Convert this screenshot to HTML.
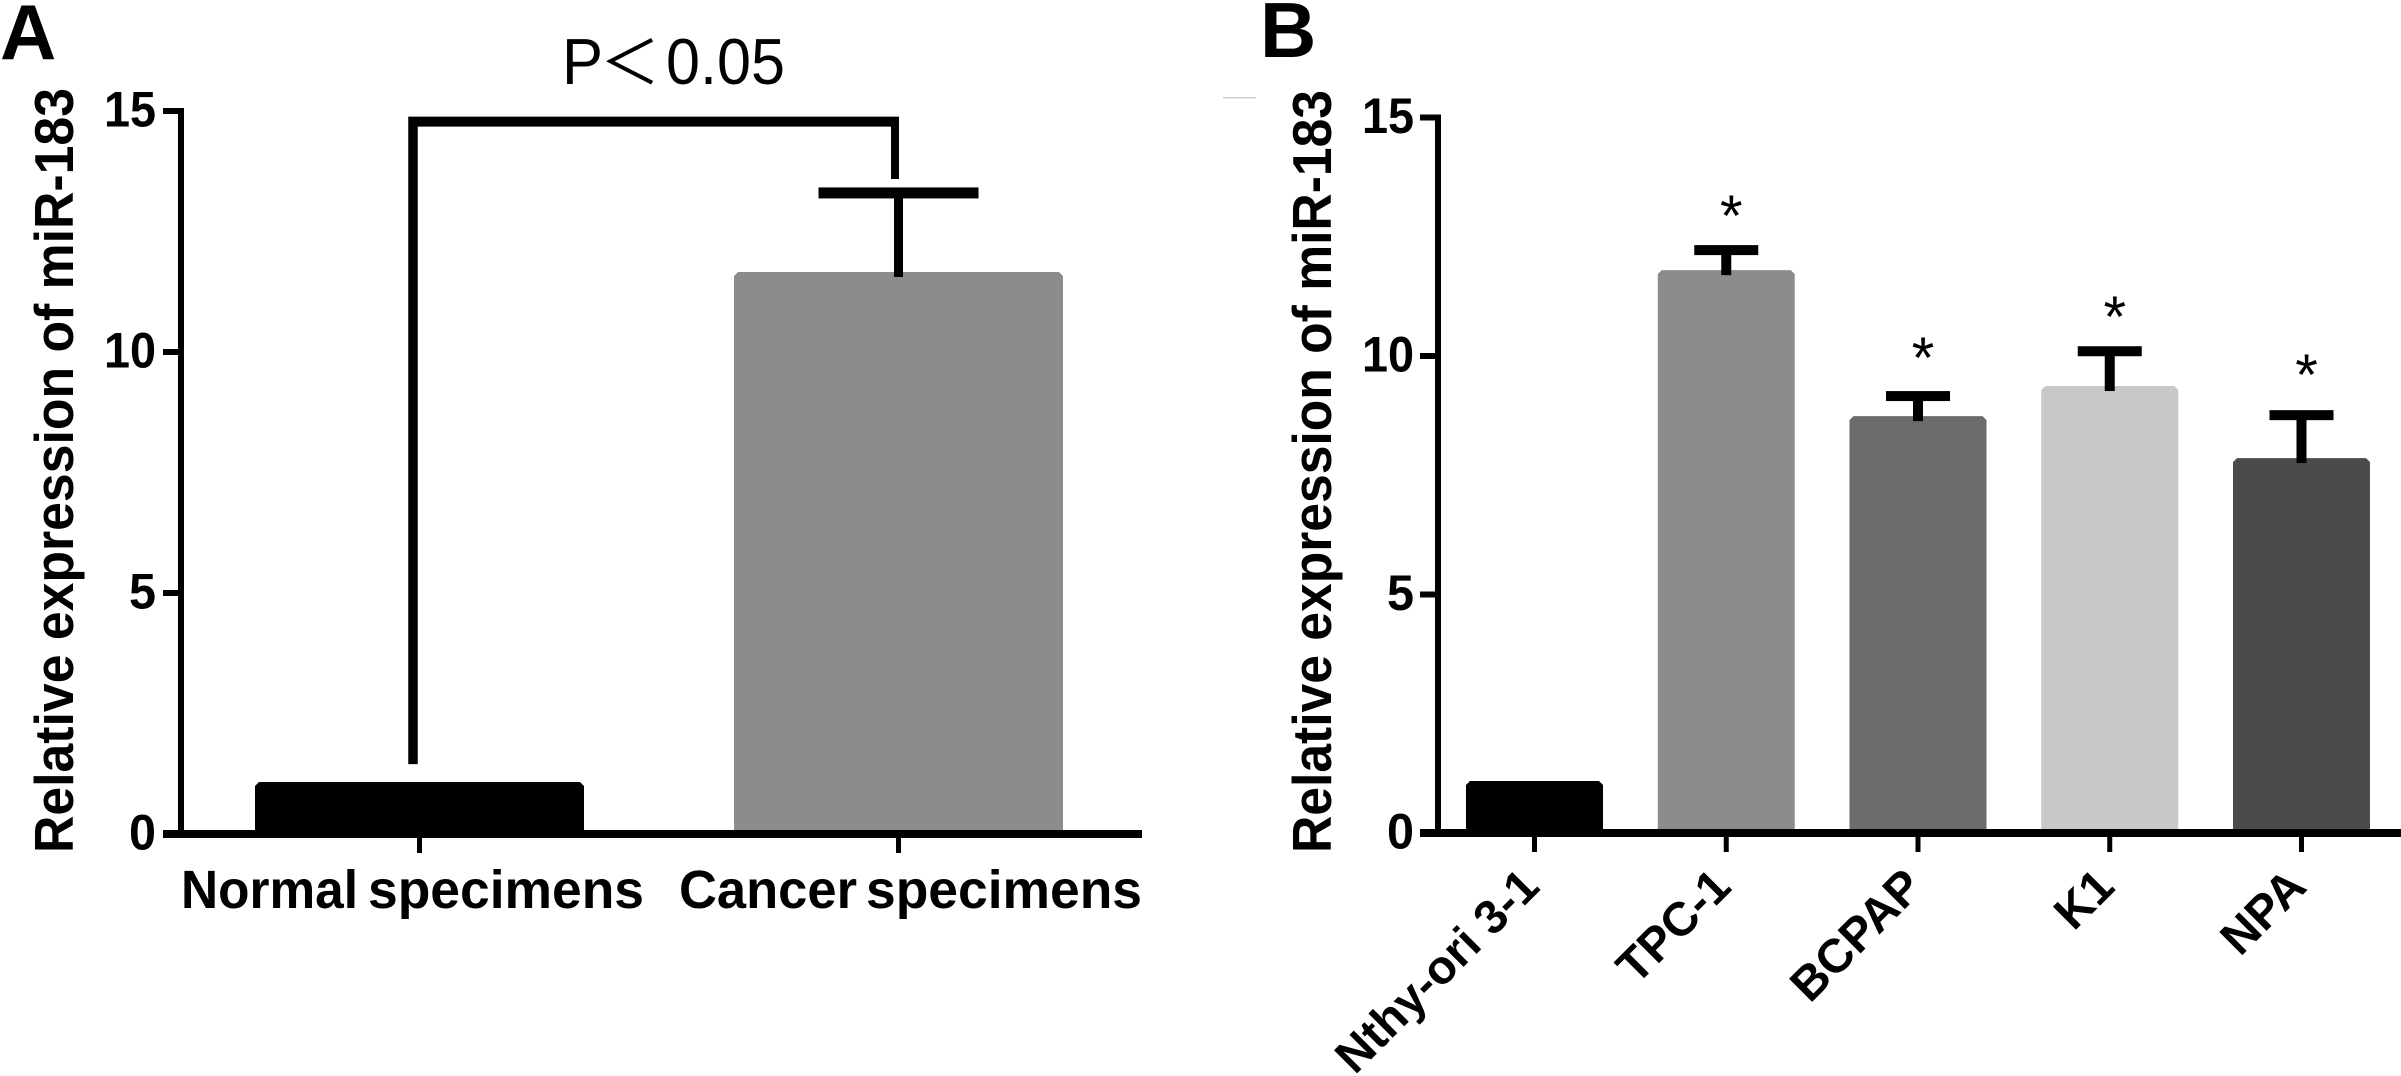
<!DOCTYPE html>
<html lang="en">
<head>
<meta charset="utf-8">
<title>Relative expression of miR-183</title>
<style>
html,body{margin:0;padding:0;background:#fff;width:2401px;height:1076px;overflow:hidden}
svg{display:block;font-family:"Liberation Sans","Noto Sans CJK SC",sans-serif}
</style>
</head>
<body>
<svg id="figure" xmlns="http://www.w3.org/2000/svg" width="2401" height="1076" viewBox="0 0 2401 1076"></svg>
<script>
// Panel A data
const categoriesA = ["Normal specimens", "Cancer specimens"];
const valuesA = [1.08, 11.66];
const errorsA = [0, 1.64];
const colorsA = ["#000000", "#8c8c8c"];
const bracketLevelA = [14.78];
const bracketLegEndsA = [1.45, 13.59];
// Panel B data
const categoriesB = ["Nthy-ori 3-1", "TPC-1", "BCPAP", "K1", "NPA"];
const valuesB = [1.09, 11.80, 8.74, 9.37, 7.86];
const errorsB = [0, 0.42, 0.42, 0.73, 0.90];
const colorsB = ["#000000", "#8c8c8c", "#6b6b6b", "#c8c8c8", "#4b4b4b"];
const starLevelsB = [null, 13.10, 10.13, 10.99, 9.77];
// Shared axis ticks
const yTicks = [0, 5, 10, 15];
const yTitle = "Relative expression of miR-183";

const NS = "http://www.w3.org/2000/svg";
const svg = document.getElementById("figure");
function make(tag, props, parent) {
  const n = document.createElementNS(NS, tag);
  for (const k in props) n.setAttribute(k, props[k]);
  (parent || svg).appendChild(n);
  return n;
}
function yA(v) { return 834 - v * 48.2; }
function yB(v) { return 833 - v * 47.7; }
function xA(i) { return 419.5 + i * 479; }
function xB(i) { return 1534.5 + i * 191.75; }

function drawBar(group, cx, halfWidth, top, base, color) {
  const c = 4;
  const bar = make("path", {
    d: "M" + (cx - halfWidth) + " " + base + "V" + (top + c) + "L" + (cx - halfWidth + c) + " " + top +
       "H" + (cx + halfWidth - c) + "L" + (cx + halfWidth) + " " + (top + c) + "V" + base + "Z",
    fill: color
  }, group);
  
  
}
function drawError(group, cx, topBar, topErr, capHalf, capH, stemW) {
  const stem = make("rect", { x: cx - stemW / 2, y: topErr, width: stemW, height: topBar - topErr + 5, fill: "#000" }, group);
  
  
  const cap = make("rect", { x: cx - capHalf, y: topErr - capH / 2, width: capHalf * 2, height: capH, fill: "#000" }, group);
  
  
}
function drawYAxis(group, axisX, tickLeft, yFn, labelRight, titleX, titleLen, xEnd) {
  const line = make("rect", { x: axisX - 3, y: yFn(15) - 3, width: 6, height: yFn(0) - yFn(15) + 6, fill: "#000" }, group);
  
  
  const xLine = make("rect", { x: tickLeft, y: yFn(0) - 4, width: xEnd - tickLeft, height: 8, fill: "#000" }, group);
  
  
  yTicks.forEach(function (t) {
    const mark = make("rect", { x: tickLeft, y: yFn(t) - 3, width: axisX - tickLeft, height: 6, fill: "#000" }, group);
    
    
    const labelLen = String(t).length === 2 ? 52 : 27;
    const label = make("text", {
      x: labelRight - labelLen, y: yFn(t) + 15.5, "font-size": 50, "font-weight": "bold",
      textLength: labelLen, lengthAdjust: "spacingAndGlyphs", fill: "#000"
    }, group);
    label.textContent = String(t);
    
    
  });
  const title = make("text", {
    transform: "translate(" + titleX + " 853) rotate(-90)", "font-size": 55, "font-weight": "bold",
    textLength: titleLen, lengthAdjust: "spacingAndGlyphs", fill: "#000"
  }, group);
  title.textContent = yTitle;
  
  
}
function drawXTick(group, x, yFn) {
  const mark = make("rect", { x: x - 2.5, y: yFn(0), width: 5, height: 19, fill: "#000" }, group);
  
  
}

/* ---------- Panel A ---------- */
const panelA = make("g", {});



const letterA = make("text", { x: 0, y: 59, "font-size": 78, "font-weight": "bold", fill: "#000" }, panelA);
letterA.textContent = "A";



categoriesA.forEach(function (c, i) {
  drawBar(panelA, xA(i), 164.5, yA(valuesA[i]), yA(0), colorsA[i]);
});
drawYAxis(panelA, 181, 163, yA, 156, 73, 765, 1142);
categoriesA.forEach(function (c, i) {
  drawXTick(panelA, xA(i), yA);
  if (errorsA[i] > 0) drawError(panelA, xA(i), yA(valuesA[i]), yA(valuesA[i] + errorsA[i]), 80, 11, 9);
});
const wordSpansA = [[181, 177, 368, 276], [679, 178, 866, 276]];
categoriesA.forEach(function (c, i) {
  const words = c.split(" ");
  const label = make("text", { y: 908, "font-size": 54, "font-weight": "bold", fill: "#000" }, panelA);
  
  
  const first = make("tspan", { x: wordSpansA[i][0], textLength: wordSpansA[i][1], lengthAdjust: "spacingAndGlyphs" }, label);
  first.textContent = words[0];
  label.appendChild(document.createTextNode(" "));
  const second = make("tspan", { x: wordSpansA[i][2], textLength: wordSpansA[i][3], lengthAdjust: "spacingAndGlyphs" }, label);
  second.textContent = words[1];
});

const bracketY = yA(bracketLevelA[0]);
const bracketLeft = xA(0) - 6.5;
const bracketRight = xA(1) - 3.5;
const bracket = make("path", {
  d: "M" + (bracketLeft - 4.75) + " " + yA(bracketLegEndsA[0]) + "V" + (bracketY - 5) +
     "H" + (bracketRight + 4) + "V" + yA(bracketLegEndsA[1]) + "H" + (bracketRight - 4) +
     "V" + (bracketY + 5) + "H" + (bracketLeft + 4.75) + "V" + yA(bracketLegEndsA[0]) + "Z",
  fill: "#000"
}, panelA);



const pText = make("text", { y: 84, fill: "#000" }, panelA);


const pLetter = make("tspan", { x: 562, "font-size": 65, textLength: 41, lengthAdjust: "spacingAndGlyphs" }, pText);
pLetter.textContent = "P";
const pSign = make("tspan", { x: 600, "font-size": 60 }, pText);
pSign.textContent = "\uFF1C";
pText.appendChild(document.createTextNode(" "));
const pValue = make("tspan", { x: 666, "font-size": 65, textLength: 119, lengthAdjust: "spacingAndGlyphs" }, pText);
pValue.textContent = "0.05";

/* ---------- Panel B ---------- */
const panelB = make("g", {});



const letterB = make("text", { x: 1260, y: 57, "font-size": 78, "font-weight": "bold", fill: "#000" }, panelB);
letterB.textContent = "B";



const strayMark = make("rect", { x: 1223, y: 97, width: 33, height: 1.5, fill: "#cfcfcf" }, panelB);



categoriesB.forEach(function (c, i) {
  drawBar(panelB, xB(i), 68.5, yB(valuesB[i]), yB(0), colorsB[i]);
});
drawYAxis(panelB, 1438, 1420, yB, 1414, 1331, 763, 2401);
categoriesB.forEach(function (c, i) {
  drawXTick(panelB, xB(i), yB);
  if (errorsB[i] > 0) drawError(panelB, xB(i), yB(valuesB[i]), yB(valuesB[i] + errorsB[i]), 32, 10, 10);
  if (starLevelsB[i] !== null) {
    const star = make("text", {
      x: xB(i) + 5, y: yB(starLevelsB[i]) + 28, "text-anchor": "middle", "font-size": 58, fill: "#000"
    }, panelB);
    star.textContent = "*";
    
    
  }
  const ex = xB(i) + 7;
  const ey = 889;
  const label = make("text", {
    transform: "translate(" + ex + " " + ey + ") rotate(-45)", "text-anchor": "end",
    "font-size": 47.5, "font-weight": "bold", fill: "#000"
  }, panelB);
  label.textContent = c;
  
  
});
</script>
</body>
</html>
